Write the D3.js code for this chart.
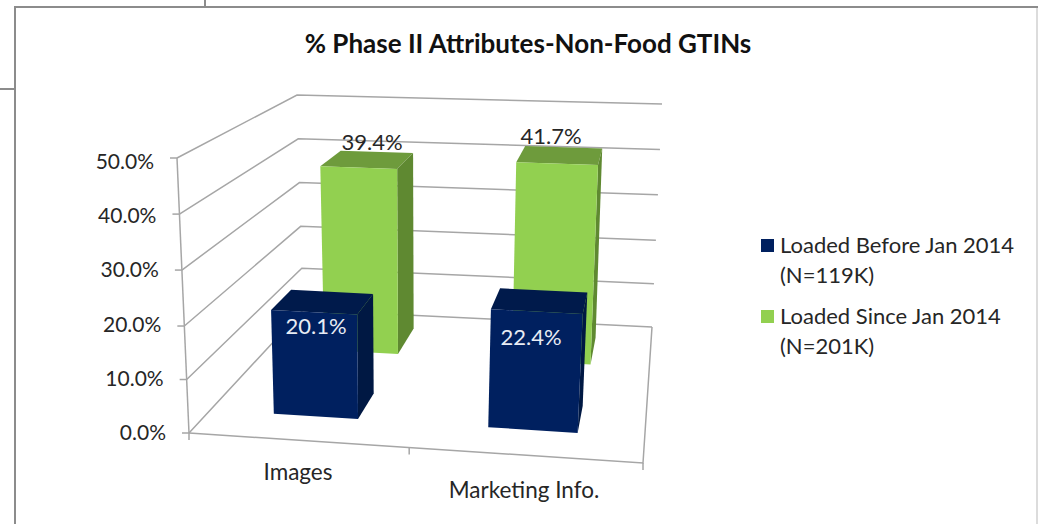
<!DOCTYPE html>
<html>
<head>
<meta charset="utf-8">
<script src="https://cdn.jsdelivr.net/npm/d3@7"></script>
<style>
  body { margin: 0; background: #fff; }
  text { font-family: Lato, "Open Sans", sans-serif; fill: #262626; }
</style>
</head>
<body>
<div id="chart"></div>
<script>
const title = "% Phase II Attributes-Non-Food GTINs"
const categories = ["Images", "Marketing Info."]
const seriesNames = ["Loaded Before Jan 2014", "Loaded Since Jan 2014"]
const seriesNotes = ["(N=119K)", "(N=201K)"]
const before = [20.1, 22.4]
const since = [39.4, 41.7]
const yTicks = [0, 10, 20, 30, 40, 50]

const width = 1038, height = 524
const colors = [
  {front: "#00205f", top: "#001a4b", side: "#001843", label: "#e8ecf4"},
  {front: "#92d050", top: "#6e9b3c", side: "#5f8931", label: "#262626"}
]

const svg = d3.select("#chart").append("svg")
    .attr("width", width)
    .attr("height", height)
    .style("display", "block")

// box corners of the 3d plot on screen
const corners = {
  floorFrontLeft: [189, 433], floorFrontRight: [643, 463],
  floorBackLeft: [303, 310], floorBackRight: [652, 327],
  topFrontLeft: [177, 158], topFrontRight: [660, 178],
  topBackLeft: [297, 95], topBackRight: [662, 104]
}

const mix = (a, b, t) => [a[0] + (b[0] - a[0]) * t, a[1] + (b[1] - a[1]) * t]

const uScale = d3.scaleLinear().domain([0, 1, 2]).range([0, 0.485, 1])
// the ticks are not quite evenly spaced in the original
const vScale = d3.scaleLinear().domain([0, 20, 40, 50]).range([0, 0.389, 0.796, 1])
const depth = d3.scaleBand().domain(seriesNames).range([0.19, 0.9]).paddingInner(0.608)

// cat = position along the category axis, d = depth 0..1, val = percent
function project(cat, d, val) {
  const u = uScale(cat), v = vScale(val)
  const floor = mix(mix(corners.floorFrontLeft, corners.floorFrontRight, u),
                    mix(corners.floorBackLeft, corners.floorBackRight, u), d)
  const top = mix(mix(corners.topFrontLeft, corners.topFrontRight, u),
                  mix(corners.topBackLeft, corners.topBackRight, u), d)
  return mix(floor, top, v)
}

const line = d3.line()
const grid = "#a6a6a6"

function stroke(points, w) {
  svg.append("path")
      .attr("d", line(points))
      .attr("fill", "none")
      .attr("stroke", grid)
      .attr("stroke-width", w || 1.5)
}

// frame of the chart object
const frame = "#8c8c8c"
svg.append("path")
    .attr("d", "M15,524V7H1038M205,0V7M0,89H15")
    .attr("fill", "none")
    .attr("stroke", frame)
    .attr("stroke-width", 2)
svg.append("path")
    .attr("d", "M1037,8V524")
    .attr("fill", "none")
    .attr("stroke", "#d0d0d0")
    .attr("stroke-width", 1.5)

// side wall and back wall gridlines
yTicks.forEach(t => {
  stroke([project(0, 0, t), project(0, 1, t), project(2, 1, t)])
})

// floor edges and axes
stroke([project(0, 0, 0), project(2, 0, 0), project(2, 1, 0)])
stroke([project(0, 0, 0), project(0, 0, 50)])

// tick labels sit a little below their ticks towards the top
const labelY = d3.scaleLinear().domain([0, 50]).range([440, 169])
yTicks.forEach(t => {
  const p = project(0, 0, t)
  stroke([[p[0] - 7, p[1]], p])
  svg.append("text")
      .attr("x", p[0] - 23)
      .attr("y", labelY(t))
      .attr("text-anchor", "end")
      .attr("font-size", 21)
      .text(t.toFixed(1) + "%")
})

d3.range(categories.length + 1).forEach(i => {
  const p = project(i, 0, 0)
  stroke([p, [p[0], p[1] + 7]])
})

// category labels
const catLabelPos = [[298, 480], [524, 498]]
categories.forEach((c, i) => {
  svg.append("text")
      .attr("x", catLabelPos[i][0])
      .attr("y", catLabelPos[i][1])
      .attr("text-anchor", "middle")
      .attr("font-size", 22.5)
      .text(c)
})

// a bar is three faces; back series first so the front one covers it
const barHalf = 0.2
const poly = pts => line(pts) + "Z"

function drawBar(catIndex, seriesIndex, value) {
  const c = colors[seriesIndex]
  const name = seriesNames[seriesIndex]
  const d0 = depth(name), d1 = d0 + depth.bandwidth()
  const a = catIndex + 0.5 - barHalf, b = catIndex + 0.5 + barHalf
  const g = svg.append("g")
  g.append("path").attr("fill", c.top)
      .attr("d", poly([project(a, d0, value), project(b, d0, value), project(b, d1, value), project(a, d1, value)]))
  g.append("path").attr("fill", c.side)
      .attr("d", poly([project(b, d0, 0), project(b, d1, 0), project(b, d1, value), project(b, d0, value)]))
  g.append("path").attr("fill", c.front)
      .attr("d", poly([project(a, d0, 0), project(b, d0, 0), project(b, d0, value), project(a, d0, value)]))
}

const valueLabelPos = [[[316, 334], [531, 345]], [[372, 150], [551, 144]]]

;[since, before].forEach(values => {
  const s = values === before ? 0 : 1
  values.forEach((v, i) => drawBar(i, s, v))
})

;[before, since].forEach((values, s) => {
  values.forEach((v, i) => {
    svg.append("text")
        .attr("x", valueLabelPos[s][i][0])
        .attr("y", valueLabelPos[s][i][1])
        .attr("text-anchor", "middle")
        .attr("font-size", 22)
        .style("fill", colors[s].label)
        .text(v.toFixed(1) + "%")
  })
})

// title
svg.append("text")
    .attr("x", 528)
    .attr("y", 53)
    .attr("text-anchor", "middle")
    .attr("font-size", 26)
    .attr("font-weight", 700)
    .style("fill", "#111")
    .text(title)

// legend
const legendY = d3.scalePoint().domain(seriesNames).range([246, 317])
seriesNames.forEach((name, i) => {
  const y = legendY(name)
  svg.append("rect")
      .attr("x", 761)
      .attr("y", y - 7)
      .attr("width", 13)
      .attr("height", 13)
      .attr("fill", colors[i].front)
  const t = svg.append("text").attr("font-size", 22)
  t.append("tspan").attr("x", 780).attr("y", y + 7).text(name)
  t.append("tspan").attr("x", 780).attr("y", y + 37).text(seriesNotes[i])
})
</script>
</body>
</html>
